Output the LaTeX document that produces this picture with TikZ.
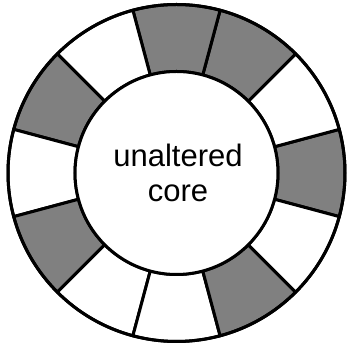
\documentclass[tikz,border=0pt]{standalone}
\usepackage{fontspec}
\setmainfont{Liberation Sans}
\usetikzlibrary{calc}
\definecolor{segfill}{HTML}{808080}
\begin{document}
\begin{tikzpicture}[x=1pt,y=1pt,
  ringline/.style={line width=3pt, line join=round},
  filled/.style={ringline, fill=segfill},
  blank/.style={ringline, fill=white},
  corelabel/.style={align=center, font=\fontsize{31}{35}\selectfont, inner sep=0pt}]
\useasboundingbox (0,0) rectangle (349,347);
\coordinate (c) at (176.5,174);
\def\Rout{168.5}
\def\Rin{101.5}
% twelve 30-degree segments of the ring, centred on multiples of 30 degrees
\foreach \a/\sty in {0/filled,30/blank,60/filled,90/filled,120/blank,150/filled,
                     180/blank,210/filled,240/blank,270/blank,300/filled,330/blank}{
  \draw[\sty] ($(c)+(\a-15:\Rin)$) -- ($(c)+(\a-15:\Rout)$)
    arc[start angle=\a-15, end angle=\a+15, radius=\Rout]
    -- ($(c)+(\a+15:\Rin)$)
    arc[start angle=\a+15, end angle=\a-15, radius=\Rin] -- cycle;
}
\draw[ringline] (c) circle[radius=\Rout];
\node[circle, draw, line width=3pt, fill=white, minimum size=2*\Rin pt, inner sep=0pt] (core) at (c) {};
\node[corelabel] (label) at ($(c)+(1.5,0)$) {unaltered\\core};
\end{tikzpicture}
\end{document}
